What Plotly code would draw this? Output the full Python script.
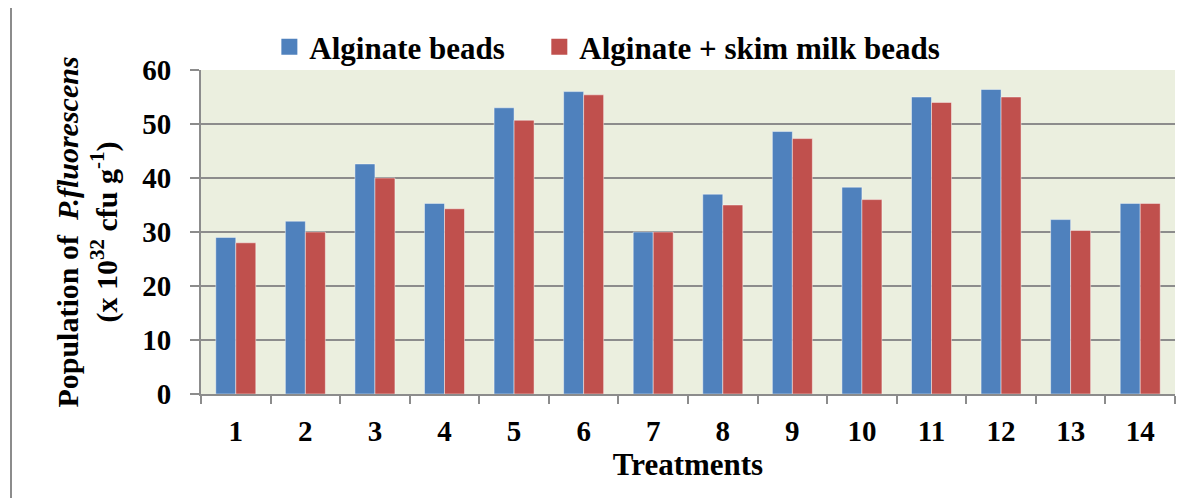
import plotly.graph_objects as go

treatments = [str(i) for i in range(1, 15)]
alginate = [29.0, 32.0, 42.6, 35.3, 53.0, 56.0, 30.0, 37.0, 48.6, 38.3, 55.0, 56.4, 32.3, 35.3]
alginate_skim = [28.0, 30.0, 40.0, 34.3, 50.7, 55.4, 30.0, 35.0, 47.3, 36.0, 54.0, 55.0, 30.3, 35.3]
series_names = ["Alginate beads", "Alginate + skim milk beads"]
colors = ["#4F81BD", "#C0504D"]
y_ticks = [0, 10, 20, 30, 40, 50, 60]

FONT = "Liberation Serif"
GRID = "#8c8c8c"

# the page body adds an 8px offset; compensate so the plot lands where the reference has it
OFF = 8
W, H = 1191 - OFF, 498 - OFF
L, R, T, B = 201 - OFF, 16, 70 - OFF, 104
PW, PH = W - L - R, H - T - B

# extra trailing space after the first legend label (legend spacing only)
legend_pad = ["\u00a0\u00a0\u00a0\u2009", ""]

fig = go.Figure()
for name, vals, col, pad in zip(series_names, [alginate, alginate_skim], colors, legend_pad):
    fig.add_trace(go.Bar(
        x=treatments, y=vals, name=name, showlegend=False,
        marker=dict(color=col, line=dict(color="rgba(255,255,255,0.45)", width=1)),
    ))
    # legend entries with larger square markers
    fig.add_trace(go.Scatter(
        x=[None], y=[None], mode="markers", name=name + pad,
        marker=dict(symbol="square", size=18, color=col),
    ))

fig.update_layout(
    width=W, height=H,
    margin=dict(l=L, r=R, t=T, b=B, pad=0),
    paper_bgcolor="white",
    plot_bgcolor="#EBEFDF",
    barmode="group",
    bargap=0.425,
    bargroupgap=0,
    font=dict(family=FONT, color="black", size=28, weight="bold"),
    legend=dict(
        orientation="h", x=(283 - 201) / PW - 0.014, xanchor="left",
        y=1 + (70 - 47) / PH, yanchor="middle",
        font=dict(family=FONT, size=31, weight="bold", color="black"),
        bgcolor="rgba(0,0,0,0)",
    ),
    xaxis=dict(
        type="category",
        showline=True, linecolor=GRID, linewidth=2,
        ticks="outside", tickson="boundaries", ticklen=8, tickcolor=GRID, tickwidth=2,
        tickfont=dict(family=FONT, size=29, weight="bold"),
        ticklabelstandoff=10,
        showgrid=False,
        title=dict(text="Treatments", font=dict(family=FONT, size=31, weight="bold"), standoff=7),
    ),
    yaxis=dict(
        range=[0, 60], tickvals=y_ticks,
        showline=True, linecolor=GRID, linewidth=2,
        ticks="outside", ticklen=9, tickcolor=GRID, tickwidth=2,
        showgrid=True, gridcolor=GRID, gridwidth=2,
        zeroline=False,
        tickfont=dict(family=FONT, size=29, weight="bold"),
        ticklabelstandoff=13,
        title=dict(
            text="Population of  <i>P.fluorescens</i><br>(x 10<sup>32</sup> cfu g<sup>-1</sup>)",
            font=dict(family=FONT, size=30, weight="bold"), standoff=16,
        ),
    ),
)

# outer chart-area border (left and top edges visible)
bx = (11 - 201) / PW
by = 1 + (70 - 6) / PH
fig.add_shape(type="line", xref="paper", yref="paper",
              x0=bx, x1=1.05, y0=by, y1=by,
              line=dict(color="#8c8c8c", width=2))
fig.add_shape(type="line", xref="paper", yref="paper",
              x0=bx, x1=bx, y0=-0.5, y1=by,
              line=dict(color="#8c8c8c", width=2))

fig.write_html("out.html")
